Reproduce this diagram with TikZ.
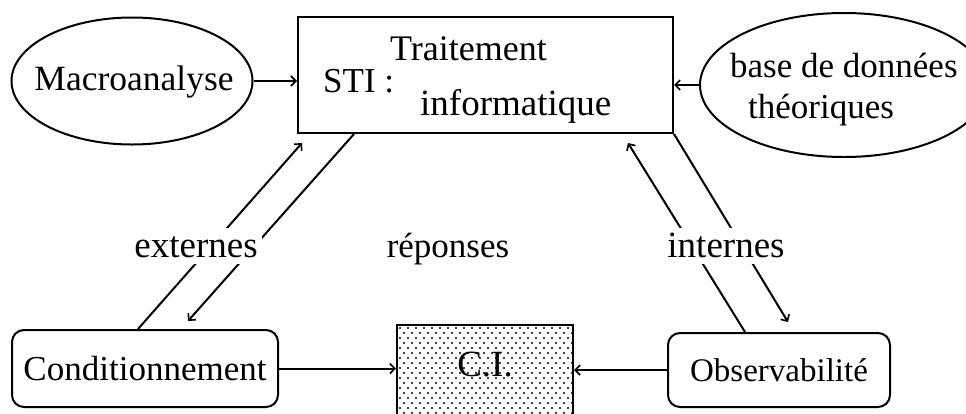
\documentclass[tikz,border=0pt]{standalone}
\usepackage{fontspec}
\setmainfont{Liberation Serif}
\usetikzlibrary{shapes.geometric,arrows.meta,calc}
\begin{document}
\begin{tikzpicture}[x=1pt,y=-1pt,
  big/.style={font=\fontsize{35}{40}\selectfont},
  shapeline/.style={draw,line width=2pt},
  conn/.style={line width=2pt,-{Straight Barb[length=5pt,width=10pt,line width=1.6pt]}},
  txt/.style={big,inner sep=0pt,anchor=base west},
  tag/.style={fill=white,inner xsep=4pt,inner ysep=5pt,text height=24pt,text depth=2pt,anchor=base},
  rbox/.style={shapeline,rounded corners=12pt,inner sep=0pt},
  ell/.style={shapeline,ellipse,inner sep=0pt}]
\useasboundingbox (0,0) rectangle (966,413);

% shapes
\node[ell,minimum width=241pt,minimum height=127pt] (macro) at (132,81) {};
\node[shapeline,rectangle,minimum width=375pt,minimum height=116pt,inner sep=0pt] (sti) at (485.5,75) {};
\node[ell,minimum width=288pt,minimum height=144pt] (base) at (844,85) {};
\node[rbox,minimum width=266pt,minimum height=77pt,big] (cond) at (145,368.5) {Conditionnement};
\node[rbox,minimum width=222pt,minimum height=74pt,font=\fontsize{33}{38}\selectfont] (obs) at (779,370) {Observabilit\'e};
\node[shapeline,rectangle,anchor=north,minimum width=176pt,font=\fontsize{37}{42}\selectfont,
      text height=23pt,text depth=20pt,inner xsep=0pt,inner ysep=28pt,
      path picture={\foreach \i in {0,...,23}\foreach \j in {0,...,21}{
        \fill ([shift={({3+8*\i+4*mod(\j,2)},{3+5*\j})}]path picture bounding box.north west) circle[radius=1.1pt];}}]
      (ci) at (485,324) {C.I.};

% texts inside
\node[inner sep=0pt,anchor=base,font=\fontsize{35.5}{40}\selectfont] (mtxt) at (134,90) {Macroanalyse};
\node[txt,font=\fontsize{36}{40}\selectfont] (t1) at (390,60) {Traitement};
\node[txt] (t2) at (323,92) {STI :};
\node[txt,font=\fontsize{37}{42}\selectfont] (t3) at (420,115) {informatique};
\node[txt] (b1) at (730,77) {base de donn\'ees};
\node[txt] (b2) at (748,118) {th\'eoriques};

% connectors
\draw[conn] (macro.east) -- (macro.east -| sti.west);
\draw[conn] (base.west) -- (base.west -| sti.east);
\draw[conn] (cond.east) -- (cond.east -| ci.west);
\draw[conn] (obs.west) -- (obs.west -| ci.east);
\draw[conn] ([xshift=-7pt]cond.north) -- ([shift={(5,9)}]sti.south west);
\draw[conn] ([xshift=57pt]sti.south west) -- ([shift={(43,-8)}]cond.north);
\draw[conn] ([xshift=-34pt]obs.north) -- ([shift={(-46,9)}]sti.south east);
\draw[conn] (sti.south east) -- ([shift={(9,-10)}]obs.north);

% labels
\node[tag,font=\fontsize{37}{42}\selectfont] (ext) at (196,257) {externes};
\node[tag,font=\fontsize{37}{42}\selectfont] (int) at (726,257) {internes};
\node[big,inner sep=0pt,anchor=base] (rep) at (448,257) {r\'eponses};
\end{tikzpicture}
\end{document}
